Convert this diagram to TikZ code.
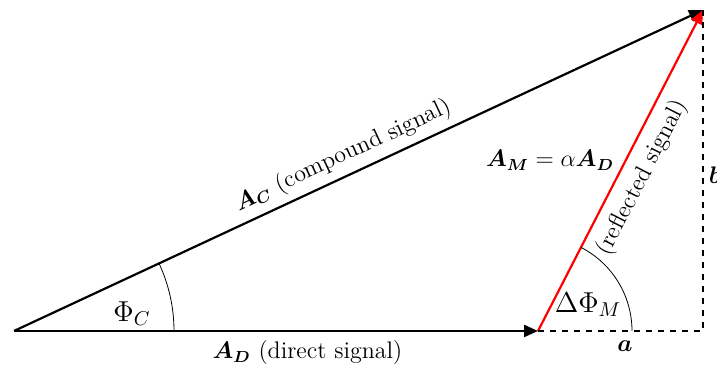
\documentclass[tikz,border=0pt]{standalone}
\usepackage{amsmath,amssymb}
\usepackage{tikz}
\usetikzlibrary{positioning,arrows.meta,calc}
\usepackage{xcolor}

\begin{document}
\begin{tikzpicture}[x=0.5pt,y=0.5pt,>={Triangle[length=7pt,width=6pt]},every node/.style={font=\large}]
\useasboundingbox (0,0) rectangle (717,367);
\coordinate (o) at (14,36);
\coordinate (d) at (538,36);
\coordinate (t) at (703,357);
\coordinate (c) at (703,36);
% vectors
\draw[->,line width=1.1pt] (o) -- node[below=1pt,pos=0.56]{$\boldsymbol{A_D}$ (direct signal)} (d);
\draw[->,line width=1.1pt] (o) -- node[above,sloped,pos=0.49]{$\boldsymbol{A_C}$ (compound signal)} (t);
\draw[->,line width=1.1pt,red] (d) -- node[below=1.5pt,sloped,text=black,pos=0.51]{(reflected signal)} (t);
\draw[line width=1.1pt,dashed] (d) -- (c) -- (t);
% angles
\draw (o) ++(160,0) arc[start angle=0,end angle=25.0,radius=160];
\draw (d) ++(94,0) arc[start angle=0,end angle=62.8,radius=94];
\node (phic) at (132,53) {\Large$\Phi_C$};
\node (dphim) at (588,62) {\Large$\Delta\Phi_M$};
\node (a) at (625,21) {$\boldsymbol{a}$};
\node (b) at (715,192) {$\boldsymbol{b}$};
\node (am) at (550,207) {$\boldsymbol{A_M}=\alpha\boldsymbol{A_D}$};
\end{tikzpicture}
\end{document}
